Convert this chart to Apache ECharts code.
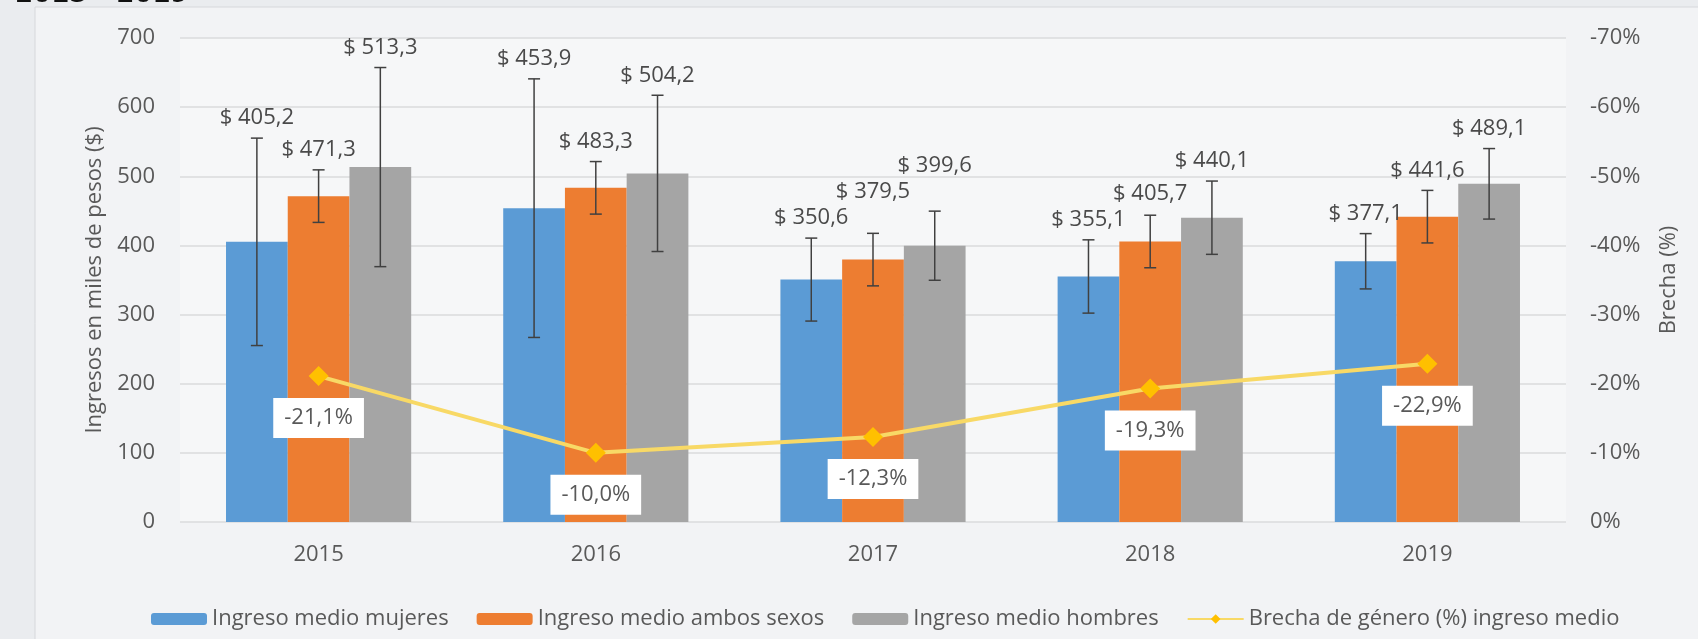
<!DOCTYPE html>
<html>
<head>
<meta charset="utf-8">
<title>Ingreso medio por sexo 2015 - 2019</title>
<script src="https://cdn.jsdelivr.net/npm/echarts@6/dist/echarts.min.js"></script>
<style>
  html, body { margin: 0; padding: 0; background: #eaecef; }
  #chart { width: 1698px; height: 639px; }
</style>
</head>
<body>
<div id="chart"></div>
<script>
// datos del grafico
const years = ['2015', '2016', '2017', '2018', '2019'];
const ingresoMujeres = [405.2, 453.9, 350.6, 355.1, 377.1];
const ingresoAmbos = [471.3, 483.3, 379.5, 405.7, 441.6];
const ingresoHombres = [513.3, 504.2, 399.6, 440.1, 489.1];
const brecha = [-21.1, -10.0, -12.3, -19.3, -22.9];
// barras de error (+/-)
const errMujeres = [150, 187, 60, 53, 40];
const errAmbos = [38, 38, 38, 38, 38];
const errHombres = [144, 113, 50, 53, 51];

const nombres = ['Ingreso medio mujeres', 'Ingreso medio ambos sexos', 'Ingreso medio hombres', 'Brecha de género (%) ingreso medio'];
const colores = ['#5b9bd5', '#ed7d31', '#a5a5a5'];
const FONT = '"Open Sans", "DejaVu Sans", sans-serif';
const TXT = '#595959';
const CAT_GAP = 0.332;

function fmtPesos(v) { return '$ ' + v.toFixed(1).replace('.', ','); }
function fmtPct(v) { return v.toFixed(1).replace('.', ',') + '%'; }

// dibuja las barras de error y las etiquetas de cada grupo
function renderErrores(params, api) {
  const cat = api.value(0);
  const center = api.coord([cat, 0]);
  const bw = api.size([1, 0])[0] * (1 - CAT_GAP) / 3;
  const grupos = [[ingresoMujeres, errMujeres], [ingresoAmbos, errAmbos], [ingresoHombres, errHombres]];
  const children = [];
  let prevY = null;
  grupos.forEach(function (g, k) {
    const v = g[0][cat], e = g[1][cat];
    const x = center[0] + (k - 1) * bw;
    const top = api.coord([cat, v + e])[1];
    const bot = api.coord([cat, v - e])[1];
    const st = { stroke: '#404040', lineWidth: 1.5 };
    children.push({ type: 'line', shape: { x1: x, y1: top, x2: x, y2: bot }, style: st });
    children.push({ type: 'line', shape: { x1: x - 6, y1: top, x2: x + 6, y2: top }, style: st });
    children.push({ type: 'line', shape: { x1: x - 6, y1: bot, x2: x + 6, y2: bot }, style: st });
    // etiqueta sobre la barra de error, escalonada si choca con la anterior
    let ly = top - 20;
    if (prevY !== null && Math.abs(ly - prevY) < 26) ly = prevY - 26;
    prevY = ly;
    children.push({
      type: 'text', x: x, y: ly,
      style: { text: fmtPesos(v), fill: '#4a4a4a', fontSize: 22, fontFamily: FONT, align: 'center', verticalAlign: 'middle' }
    });
  });
  return { type: 'group', children: children };
}

const chart = echarts.init(document.getElementById('chart'));
chart.setOption({
  animation: false,
  backgroundColor: '#eaecef',
  textStyle: { fontFamily: FONT },
  graphic: [
    { type: 'rect', z: -10, shape: { x: 35, y: 7, width: 1700, height: 700 },
      style: { fill: '#f2f3f5', stroke: '#d6d8db', lineWidth: 1 } },
    { type: 'text', z: -5, left: 15, top: -18,
      style: { text: '2015 - 2019', fill: '#111', fontSize: 26, fontWeight: 'bold', fontFamily: '"DejaVu Sans", sans-serif' } }
  ],
  grid: { left: 180, right: 132, top: 38, bottom: 117, show: true, backgroundColor: '#f6f7f8', borderWidth: 0 },
  legend: {
    left: 146, top: 603,
    itemWidth: 56, itemHeight: 12, itemGap: 28,
    textStyle: { color: TXT, fontSize: 22, fontFamily: FONT },
    data: nombres
  },
  xAxis: {
    type: 'category', data: years,
    axisLine: { show: false }, axisTick: { show: false },
    axisLabel: { color: TXT, fontSize: 22, margin: 22 }
  },
  yAxis: [
    {
      type: 'value', min: 0, max: 700, interval: 100,
      name: 'Ingresos en miles de pesos ($)', nameLocation: 'middle', nameGap: 74, nameRotate: 90,
      nameTextStyle: { color: TXT, fontSize: 22 },
      axisLabel: { color: TXT, fontSize: 22, margin: 25 },
      splitLine: { lineStyle: { color: '#dadbdd', width: 1.5 } }
    },
    {
      type: 'value', min: -70, max: 0, interval: 10, inverse: true,
      name: 'Brecha (%)', nameLocation: 'middle', nameGap: 92, nameRotate: 90,
      nameTextStyle: { color: TXT, fontSize: 22 },
      axisLabel: { color: TXT, fontSize: 22, margin: 24, formatter: function (v) { return v + '%'; } },
      splitLine: { show: false }
    }
  ],
  series: [
    { name: nombres[0], type: 'bar', data: ingresoMujeres, itemStyle: { color: colores[0] }, barGap: '0%', barCategoryGap: (CAT_GAP * 100) + '%' },
    { name: nombres[1], type: 'bar', data: ingresoAmbos, itemStyle: { color: colores[1] } },
    { name: nombres[2], type: 'bar', data: ingresoHombres, itemStyle: { color: colores[2] } },
    {
      type: 'custom', renderItem: renderErrores, clip: false, silent: true, z: 5,
      encode: { x: 0, y: 1 },
      data: years.map(function (y, i) { return [i, ingresoMujeres[i]]; })
    },
    {
      name: nombres[3], type: 'line', yAxisIndex: 1, data: brecha, z: 6,
      symbol: 'diamond', symbolSize: 20,
      lineStyle: { color: '#f8d966', width: 4 },
      itemStyle: { color: '#ffc000' },
      label: {
        show: true, position: 'bottom', distance: 12,
        formatter: function (p) { return fmtPct(p.value); },
        color: TXT, fontSize: 22, backgroundColor: '#ffffff', padding: [9, 11]
      }
    }
  ]
});
</script>
</body>
</html>
